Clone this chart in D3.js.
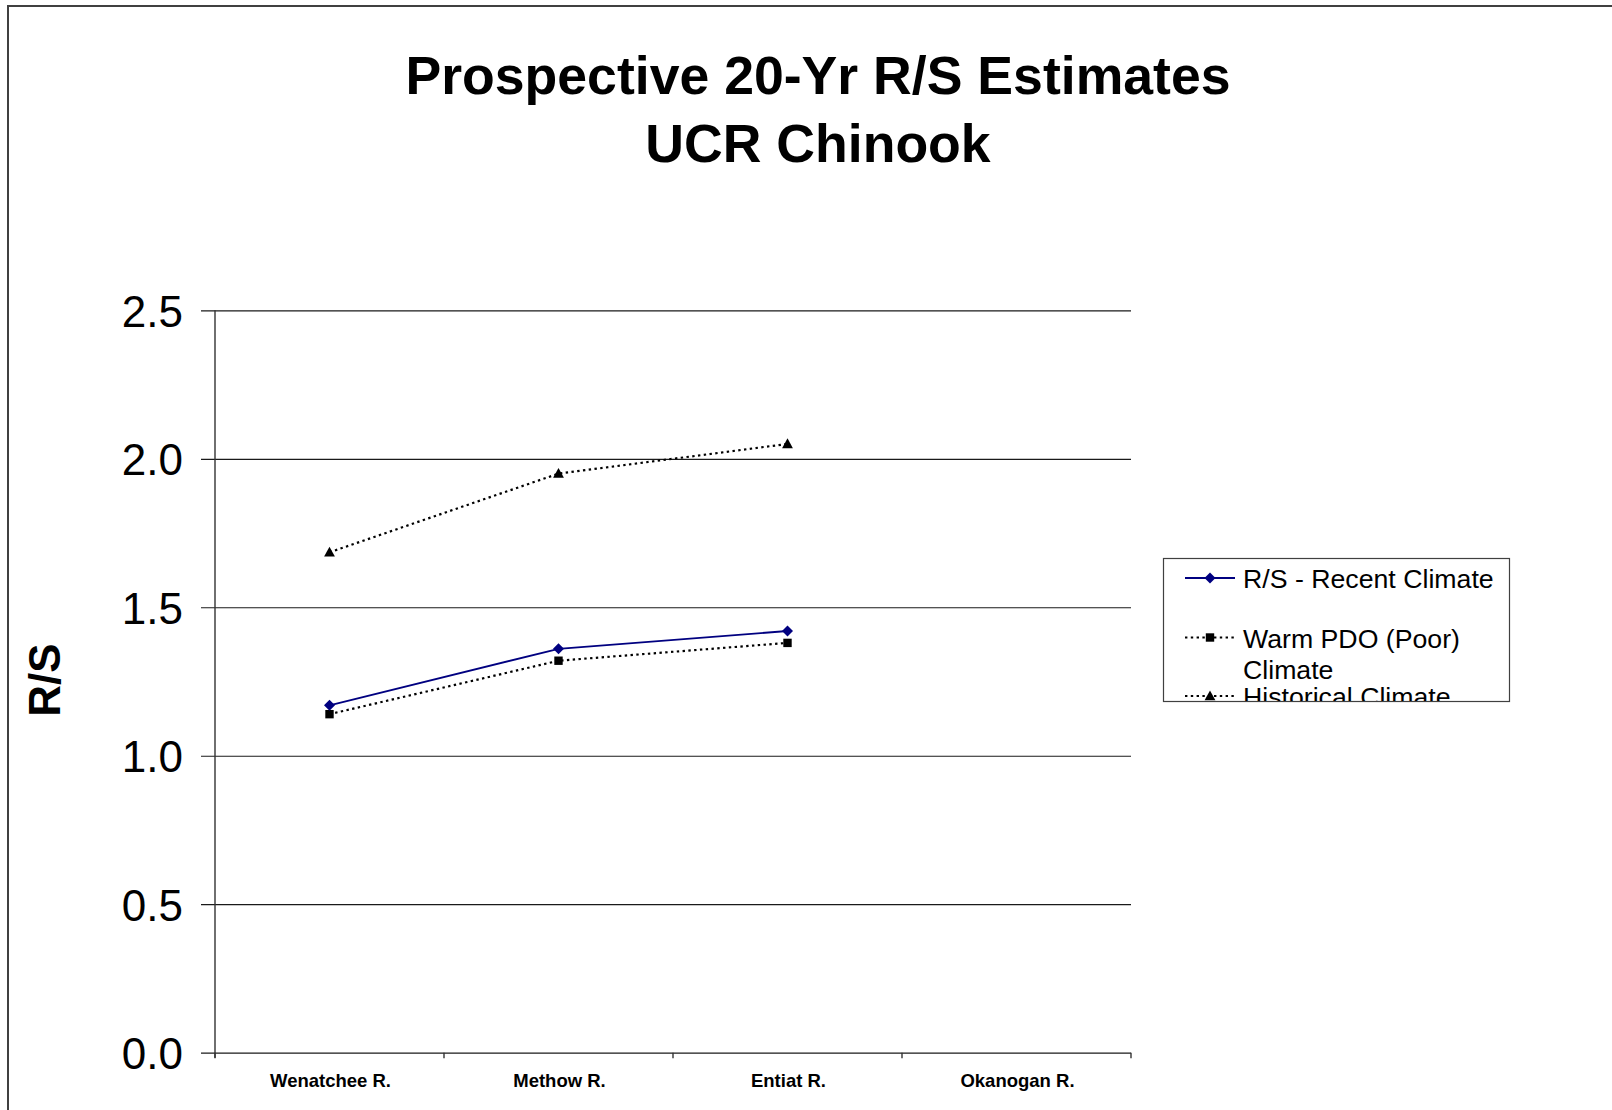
<!DOCTYPE html>
<html>
<head>
<meta charset="utf-8">
<script src="https://cdn.jsdelivr.net/npm/d3@7"></script>
<style>
  html, body { margin: 0; padding: 0; background: #fff; }
  svg { display: block; }
  text { font-family: "Liberation Sans", Arial, sans-serif; fill: #000; }
</style>
</head>
<body>
<svg id="chart" width="1612" height="1110"></svg>
<script>
// Rivers along the category axis
const rivers = ["Wenatchee R.", "Methow R.", "Entiat R.", "Okanogan R."];

// R/S estimates per climate scenario (no value for Okanogan)
const recentClimate = [1.17, 1.36, 1.42, null];
const warmPdoClimate = [1.14, 1.32, 1.38, null];
const historicalClimate = [1.685, 1.95, 2.05, null];

const yTicks = [0, 0.5, 1.0, 1.5, 2.0, 2.5];

const titleLines = ["Prospective 20-Yr R/S Estimates", "UCR Chinook"];

const series = [
  { name: ["R/S - Recent Climate"], values: recentClimate, color: "#000080", dash: null, marker: "diamond" },
  { name: ["Warm PDO (Poor)", "Climate"], values: warmPdoClimate, color: "#000", dash: "2.4,3.4", marker: "square" },
  { name: ["Historical Climate"], values: historicalClimate, color: "#000", dash: "2.4,3.4", marker: "triangle" }
];

const svg = d3.select("#chart");

// outer frame
svg.append("path")
  .attr("d", "M8,1110 L8,6 L1612,6")
  .attr("fill", "none").attr("stroke", "#404040").attr("stroke-width", 2);

// title
svg.append("g").selectAll("text").data(titleLines).join("text")
  .attr("x", 818)
  .attr("y", (d, i) => 93.5 + i * 68)
  .attr("text-anchor", "middle")
  .attr("font-size", 53.6)
  .attr("font-weight", "bold")
  .text(d => d);

const plot = { left: 215, right: 1131, top: 310.3, bottom: 1052.7 };

const x = d3.scaleBand().domain(rivers).range([plot.left, plot.right]).padding(0);
const y = d3.scaleLinear().domain([0, 2.5]).range([plot.bottom, plot.top]);

// horizontal gridlines with outside tick marks
const yAxis = d3.axisLeft(y)
  .tickValues(yTicks)
  .tickFormat(d3.format(".1f"))
  .tickSizeInner(-(plot.right - plot.left))
  .tickSizeOuter(0)
  .tickPadding(32);

const gy = svg.append("g").attr("transform", `translate(${plot.left},0)`).call(yAxis);
gy.select(".domain").remove();
gy.selectAll(".tick line")
  .attr("x1", -14)
  .attr("stroke", "#1a1a1a").attr("stroke-width", 1.2);
gy.selectAll(".tick text")
  .attr("font-size", 44)
  .attr("font-family", "'Liberation Sans', Arial, sans-serif")
  .attr("fill", "#000")
  .attr("dy", "0.36em");

// vertical axis line
svg.append("line")
  .attr("x1", plot.left).attr("x2", plot.left)
  .attr("y1", plot.top).attr("y2", plot.bottom + 5)
  .attr("stroke", "#333").attr("stroke-width", 1.4);

// category axis: ticks at category boundaries
const boundaries = rivers.map(r => x(r)).concat([plot.right]);
svg.append("g").selectAll("line").data(boundaries).join("line")
  .attr("x1", d => d).attr("x2", d => d)
  .attr("y1", plot.bottom).attr("y2", plot.bottom + 5.5)
  .attr("stroke", "#333").attr("stroke-width", 1.4);

svg.append("g").selectAll("text").data(rivers).join("text")
  .attr("x", d => x(d) + x.bandwidth() / 2 + 1)
  .attr("y", 1086.5)
  .attr("text-anchor", "middle")
  .attr("font-size", 18.5)
  .attr("font-weight", "bold")
  .text(d => d);

// y axis title
svg.append("text")
  .attr("transform", "translate(60,680) rotate(-90)")
  .attr("text-anchor", "middle")
  .attr("font-size", 44)
  .attr("font-weight", "bold")
  .text("R/S");

// marker shapes
function markerPath(kind) {
  if (kind === "diamond") return "M0,-5.5L5.5,0L0,5.5L-5.5,0Z";
  if (kind === "square") return "M-4.2,-4.2H4.2V4.2H-4.2Z";
  return "M0,-5.6L5.4,4.2H-5.4Z";
}

const cx = d => x(d) + x.bandwidth() / 2;

// draw series
series.slice().reverse().forEach(s => {
  const pts = rivers.map((r, i) => ({ r, v: s.values[i] })).filter(p => p.v != null);
  const line = d3.line().x(p => cx(p.r)).y(p => y(p.v));
  svg.append("path")
    .datum(pts)
    .attr("d", line)
    .attr("fill", "none")
    .attr("stroke", s.color)
    .attr("stroke-width", s.dash ? 2.2 : 1.8)
    .attr("stroke-dasharray", s.dash);
  svg.append("g").selectAll("path").data(pts).join("path")
    .attr("transform", p => `translate(${cx(p.r)},${y(p.v)})`)
    .attr("d", markerPath(s.marker))
    .attr("fill", s.color);
});

// legend (contents clipped to its frame)
const lg = { x: 1163, y: 558, w: 346, h: 143 };
svg.append("clipPath").attr("id", "legendClip")
  .append("rect").attr("x", lg.x).attr("y", lg.y).attr("width", lg.w).attr("height", lg.h);
svg.append("rect")
  .attr("x", lg.x + 0.5).attr("y", lg.y + 0.5).attr("width", lg.w).attr("height", lg.h)
  .attr("fill", "#fff").attr("stroke", "#404040").attr("stroke-width", 1.2);

const legend = svg.append("g").attr("clip-path", "url(#legendClip)");
const entryY = [578, 637.5, 696];
series.forEach((s, i) => {
  const g = legend.append("g").attr("transform", `translate(0,${entryY[i]})`);
  g.append("line")
    .attr("x1", 1185).attr("x2", 1235).attr("y1", 0).attr("y2", 0)
    .attr("stroke", s.color)
    .attr("stroke-width", s.dash ? 2.2 : 1.8)
    .attr("stroke-dasharray", s.dash);
  g.append("path")
    .attr("transform", "translate(1210,0)")
    .attr("d", markerPath(s.marker))
    .attr("fill", s.color);
  g.selectAll("text").data(s.name).join("text")
    .attr("x", 1243)
    .attr("y", (d, k) => 10 + k * 31.5)
    .attr("font-size", 26.7)
    .text(d => d);
});
</script>
</body>
</html>
